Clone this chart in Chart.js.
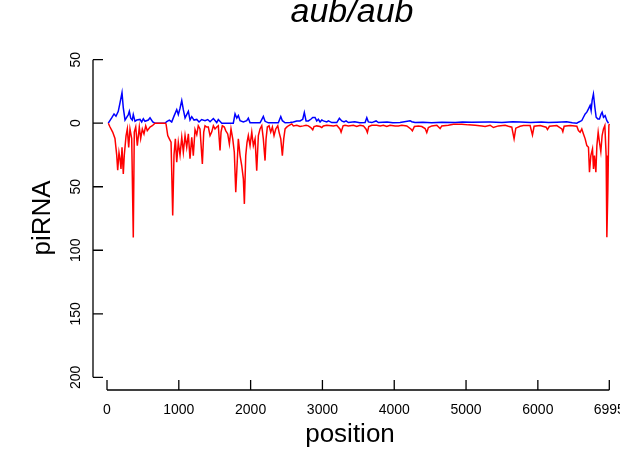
<!DOCTYPE html>
<html>
<head>
<meta charset="utf-8">
<script src="https://cdn.jsdelivr.net/npm/chart.js@4.4.1/dist/chart.umd.min.js"></script>
<style>
  html, body { margin: 0; padding: 0; background: #fff; }
  #wrap { width: 620px; height: 451px; }
</style>
</head>
<body>
<div id="wrap"><canvas id="chart" width="620" height="451"></canvas></div>
<script>
// piRNA coverage along the element: sense above zero, antisense below

const chartTitle = "aub/aub";
const xTitle = "position";
const yTitle = "piRNA";
const xTicks = [0, 1000, 2000, 3000, 4000, 5000, 6000, 6995];
const yTicks = [50, 0, -50, -100, -150, -200];

// sense (blue)
const sensePos = [18, 65, 98, 125, 157, 181, 209, 227, 251, 297, 311, 330, 352, 366, 390, 414, 460, 483, 506, 529, 575, 599, 637, 669, 808, 832, 868, 901, 933, 971, 993, 1017, 1041, 1063, 1087, 1110, 1133, 1156, 1180, 1212, 1250, 1282, 1318, 1365, 1403, 1435, 1481, 1528, 1550, 1598, 1759, 1783, 1807, 1829, 1853, 1899, 1946, 1968, 1992, 2131, 2155, 2177, 2201, 2247, 2386, 2420, 2442, 2480, 2549, 2595, 2643, 2688, 2726, 2748, 2772, 2804, 2838, 2865, 2897, 2921, 2943, 2967, 2991, 3013, 3060, 3083, 3130, 3200, 3236, 3269, 3301, 3329, 3361, 3450, 3520, 3594, 3618, 3640, 3687, 3747, 3779, 3900, 3980, 4081, 4221, 4244, 4290, 4400, 4520, 4662, 4850, 4950, 5080, 5311, 5335, 5500, 5650, 5753, 5900, 6050, 6150, 6264, 6400, 6480, 6543, 6565, 6612, 6635, 6659, 6682, 6705, 6728, 6742, 6756, 6774, 6794, 6812, 6835, 6858, 6881, 6895, 6914, 6937, 6961, 6984];
const senseVal = [0, 4.2, 7.3, 5.5, 9.4, 16, 24, 12, 2.5, 6.8, 9.4, 4, 2.5, 6.8, 1.5, 2.5, 3, 1, 3.5, 1.5, 2.5, 4.2, 1, 0, 0, 1.3, 2.5, 1, 5.6, 10.7, 6.8, 11.8, 17.8, 10.7, 4.2, 6.8, 9.4, 2.5, 5.2, 2.5, 3, 1, 2.9, 2, 2.9, 1.2, 3.7, 0.5, 2.9, 0, 0, 7.4, 4, 6, 2, 1, 2, 4, 0.3, 0.3, 2.9, 5.3, 1.5, 0.3, 0.3, 5.3, 2, 0.3, 0.5, 1, 1.8, 1.8, 3.1, 8.5, 1.8, 1.8, 3.1, 4.5, 4.5, 1.8, 3.1, 1, 2.6, 1.8, 1, 1.8, 0.5, 0.5, 3.9, 1.8, 1, 1.8, 0.5, 1.2, 0.3, 0.5, 4.4, 1, 0.5, 1.8, 0.5, 1, 0.3, 0.5, 2, 1.2, 0.5, 0.8, 0.3, 0.8, 0.5, 1, 0.8, 1, 1, 0.5, 1.2, 1, 0.5, 1, 0.5, 0.8, 1.2, 0.3, 0, 0.8, 2.1, 4.7, 7.3, 8.7, 11.3, 14, 10, 18, 23, 12.6, 4.7, 3.4, 3.4, 7.3, 8.7, 4.7, 6, 2, 0];

// antisense (red), plotted as negative counts
const antisensePos = [18, 42, 79, 111, 135, 149, 167, 181, 195, 209, 227, 241, 265, 283, 302, 320, 344, 366, 380, 400, 422, 450, 469, 492, 515, 539, 561, 599, 631, 669, 808, 822, 846, 868, 892, 915, 933, 952, 971, 993, 1017, 1041, 1063, 1087, 1110, 1133, 1156, 1180, 1202, 1226, 1250, 1271, 1295, 1328, 1347, 1365, 1389, 1411, 1435, 1458, 1481, 1504, 1528, 1550, 1574, 1588, 1606, 1634, 1653, 1681, 1704, 1727, 1751, 1773, 1793, 1811, 1829, 1853, 1876, 1899, 1913, 1932, 1950, 1968, 1992, 2016, 2038, 2062, 2085, 2108, 2131, 2155, 2177, 2201, 2215, 2233, 2257, 2280, 2303, 2326, 2350, 2378, 2396, 2420, 2442, 2461, 2480, 2503, 2526, 2573, 2595, 2643, 2688, 2734, 2772, 2804, 2838, 2865, 2883, 2921, 2967, 2991, 3013, 3060, 3153, 3200, 3246, 3260, 3288, 3315, 3361, 3431, 3478, 3524, 3571, 3608, 3626, 3645, 3687, 3757, 3803, 3849, 3896, 3942, 4012, 4058, 4105, 4175, 4235, 4253, 4281, 4337, 4384, 4430, 4453, 4476, 4523, 4593, 4639, 4662, 4754, 4824, 4941, 5033, 5126, 5220, 5266, 5335, 5381, 5451, 5544, 5590, 5637, 5669, 5693, 5753, 5799, 5892, 5925, 5948, 6032, 6115, 6134, 6161, 6264, 6334, 6348, 6366, 6450, 6543, 6565, 6589, 6612, 6635, 6659, 6682, 6705, 6719, 6738, 6761, 6775, 6788, 6808, 6822, 6840, 6858, 6877, 6895, 6914, 6933, 6951, 6961, 6975, 6989, 6995];
const antisenseVal = [0, -3, -7, -12, -25, -37, -23, -28, -36, -19, -40, -25, -10, -4.5, -19, -4.5, -12, -90, -7, -3, -17.6, -3, -12, -4.5, -8.4, -2, -5.8, -3, -2, 0, 0, -0.5, -9.7, -12.3, -15, -72.7, -25, -12.3, -30.7, -15, -25, -11, -22.8, -9.7, -19, -8.4, -28, -11, -25.5, -5, -9, -2, -4.5, -32, -7, -2, -3, -3, -9.7, -7, -2, -4.5, -3, -2, -21.5, -7, -2, -3, -5.8, -8.4, -16.3, -4.5, -12.3, -22.8, -54.3, -33.3, -12.3, -25.5, -33.3, -43.8, -63.5, -25.5, -15, -9.7, -17.6, -7, -17.6, -12.3, -37.3, -9.7, -4.5, -2, -12.3, -29.4, -12.3, -3, -2, -7, -3, -9.7, -4.5, -2, -7, -12.3, -25.5, -12.3, -4.5, -3, -2, -0.5, -2.1, -1.6, -2.6, -2.1, -1.6, -2.1, -3.4, -5.2, -2.6, -2.1, -2.6, -3.4, -2.1, -1.6, -2.1, -1.6, -4.7, -7, -2.1, -1.6, -2.1, -1.6, -2.6, -1.6, -2.1, -4.7, -7.3, -2.6, -1.6, -1.6, -2.1, -1.6, -2.6, -1.6, -2.1, -2.1, -1.6, -2.1, -4.7, -6, -2.6, -2.1, -2.6, -4.2, -7.3, -3.4, -2.1, -1.6, -4.2, -2.1, -1.6, -0.8, -0.8, -1.3, -1.6, -2.1, -2.6, -1.6, -3.4, -2.1, -1.6, -2.4, -3.1, -12.3, -3.9, -2.4, -1.8, -1.8, -9.2, -2.4, -1.8, -3.1, -5, -2.4, -1.8, -4.5, -6.6, -2.4, -1.8, -2.4, -5.8, -7.1, -4.5, -8.4, -12.3, -17.6, -18.9, -38.6, -25.5, -20.2, -36, -25.5, -38.6, -17.6, -7.1, -15, -22.3, -9.7, -4.5, -1.8, -25.5, -89.8, -51.7, -1.8, -0.5];

// R-style axes: lines only between end ticks, ticks pointing inward
const rAxes = {
  id: "rAxes",
  afterDraw(chart) {
    const { ctx, chartArea } = chart;
    const x = chart.scales.x;
    const y = chart.scales.y;
    ctx.save();
    ctx.strokeStyle = "#000";
    ctx.fillStyle = "#000";
    ctx.lineWidth = 1.3;

    // y axis
    const ax = chartArea.left;
    ctx.beginPath();
    ctx.moveTo(ax, y.getPixelForValue(yTicks[0]));
    ctx.lineTo(ax, y.getPixelForValue(yTicks[yTicks.length - 1]));
    yTicks.forEach(t => {
      const py = y.getPixelForValue(t);
      ctx.moveTo(ax, py);
      ctx.lineTo(ax + 10, py);
    });
    // x axis
    const ay = chartArea.bottom;
    ctx.moveTo(x.getPixelForValue(xTicks[0]), ay);
    ctx.lineTo(x.getPixelForValue(xTicks[xTicks.length - 1]), ay);
    xTicks.forEach(t => {
      const px = x.getPixelForValue(t);
      ctx.moveTo(px, ay);
      ctx.lineTo(px, ay - 10);
    });
    ctx.stroke();

    // tick labels
    ctx.font = "14px 'Liberation Sans', Arial, sans-serif";
    ctx.textAlign = "center";
    ctx.textBaseline = "alphabetic";
    xTicks.forEach(t => {
      ctx.fillText(String(t), x.getPixelForValue(t), ay + 24);
    });
    yTicks.forEach(t => {
      ctx.save();
      ctx.translate(ax - 13, y.getPixelForValue(t));
      ctx.rotate(-Math.PI / 2);
      ctx.fillText(String(Math.abs(t)), 0, 0);
      ctx.restore();
    });

    // axis titles
    ctx.font = "26px 'Liberation Sans', Arial, sans-serif";
    ctx.fillText(xTitle, 350, 442);
    ctx.save();
    ctx.translate(50, 218);
    ctx.rotate(-Math.PI / 2);
    ctx.fillText(yTitle, 0, 0);
    ctx.restore();

    // main title
    ctx.font = "italic 34px 'Liberation Sans', Arial, sans-serif";
    ctx.fillText(chartTitle, 352, 22);
    ctx.restore();
  }
};

const ctx = document.getElementById("chart");

new Chart(ctx, {
  type: "line",
  data: {
    datasets: [
      {
        label: "antisense",
        data: antisensePos.map((p, i) => ({ x: p, y: antisenseVal[i] })),
        borderColor: "#ff0000",
        borderWidth: 1.5,
        pointRadius: 0,
        tension: 0,
        fill: false
      },
      {
        label: "sense",
        data: sensePos.map((p, i) => ({ x: p, y: senseVal[i] })),
        borderColor: "#0000ff",
        borderWidth: 1.5,
        pointRadius: 0,
        tension: 0,
        fill: false
      }
    ]
  },
  options: {
    responsive: false,
    animation: false,
    devicePixelRatio: 1,
    layout: { padding: { left: 93, right: 0, top: 47, bottom: 61 } },
    plugins: {
      legend: { display: false },
      title: { display: false },
      tooltip: { enabled: false }
    },
    scales: {
      x: { type: "linear", display: false, min: -195, max: 7144 },
      y: { type: "linear", display: false, min: -210, max: 60 }
    }
  },
  plugins: [rAxes]
});
</script>
</body>
</html>
